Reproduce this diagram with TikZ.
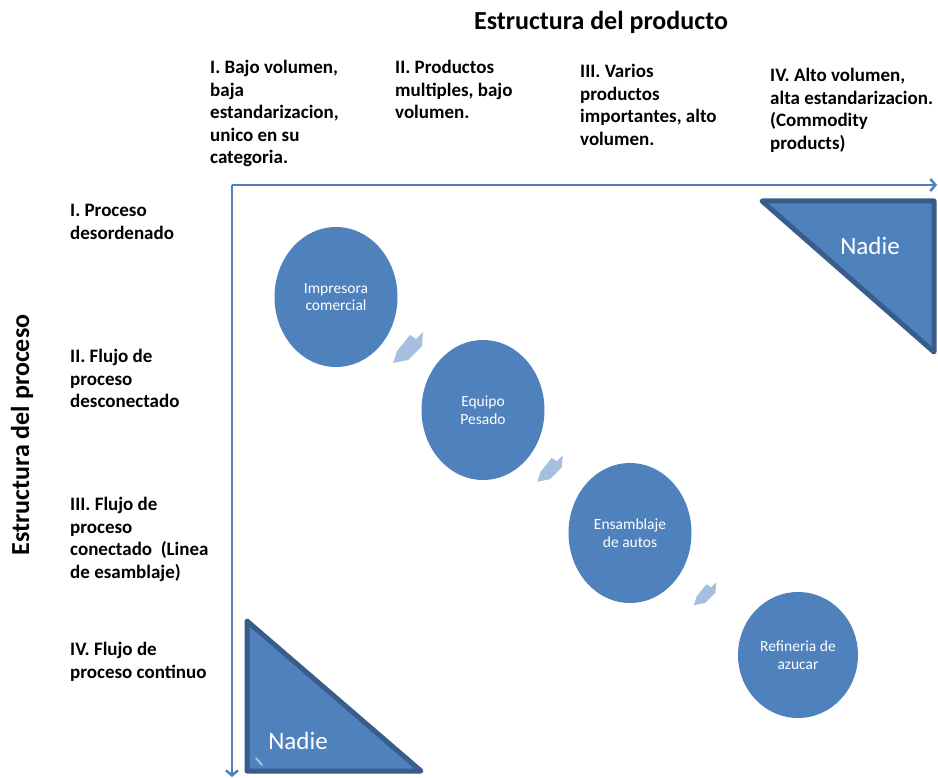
\documentclass[tikz,border=0pt]{standalone}
\usepackage{fontspec}
\setmainfont{Carlito}
\usetikzlibrary{shapes.geometric, arrows.meta, calc}
\definecolor{ejeazul}{HTML}{4F81BD}
\definecolor{bordeazul}{HTML}{385D8A}
\definecolor{flechaclara}{HTML}{A7BFDE}

\begin{document}
\begin{tikzpicture}[
    x=1pt, y=-1pt,
    encabezado/.style={anchor=north west, align=left, inner sep=0pt, font=\fontsize{19}{22.5}\selectfont\bfseries},
    titulo/.style={inner sep=0pt, font=\fontsize{26}{30}\selectfont\bfseries},
    oval/.style={ellipse, fill=ejeazul, text=white, minimum width=123pt, minimum height=140pt, inner sep=0pt, align=center, font=\fontsize{15.5}{17.5}\selectfont},
    eje/.style={draw=ejeazul, line width=2.5pt, -{Straight Barb[length=5pt,width=12pt]}},
    tri/.style={fill=ejeazul, draw=bordeazul, line width=5pt, line join=round},
    nadie/.style={text=white, inner sep=0pt, font=\fontsize{25}{30}\selectfont},
    chev/.style={fill=flechaclara}
]
\useasboundingbox (0,0) rectangle (938,778);

% titulos
\node[titulo] (prod) at (601,22) {Estructura del producto};
\node[titulo, rotate=90] (proc) at (22,435) {Estructura del proceso};

% columnas
\node[encabezado] (col1) at (210,60) {I. Bajo volumen,\\baja\\estandarizacion,\\unico en su\\categoria.};
\node[encabezado] (col2) at (395,60) {II. Productos\\multiples, bajo\\volumen.};
\node[encabezado] (col3) at (580,64) {III. Varios\\productos\\importantes, alto\\volumen.};
\node[encabezado] (col4) at (770,68) {IV. Alto volumen,\\alta estandarizacion.\\(Commodity\\products)};

% filas
\node[encabezado] (fila1) at (70,204) {I. Proceso\\desordenado};
\node[encabezado] (fila2) at (70,349) {II. Flujo de\\proceso\\desconectado};
\node[encabezado] (fila3) at (70,497) {III. Flujo de\\proceso\\conectado~ (Linea\\de esamblaje)};
\node[encabezado] (fila4) at (70,642) {IV. Flujo de\\proceso continuo};

% ejes
\coordinate (origen) at (232,185);
\coordinate (finx) at (937,185);
\coordinate (finy) at (232,777);
\draw[eje] (origen) -- (finx);
\draw[eje] (origen) -- (finy);

% triangulos
\draw[tri] (762,201) -- (934,201) -- (934,352) -- cycle;
\node[nadie] (nadie1) at (870,246) {Nadie};
\draw[tri] (247,621) -- (247,771) -- (421,771) -- cycle;
\draw[flechaclara, line width=2pt, line cap=round] (256,758) -- (262,765);
\node[nadie] (nadie2) at (298,741) {Nadie};

% ovalos
\node[oval] (imp) at (336,297) {Impresora\\comercial};
\node[oval] (equ) at (483,410) {Equipo\\Pesado};
\node[oval] (ens) at (630,533) {Ensamblaje\\de autos};
\node[oval, minimum width=120pt, minimum height=126pt] (ref) at (798,655) {Refineria de\\azucar};

% flechas
\foreach \a/\b/\dx/\dy/\s in {imp/equ/-1.5/-5.5/1, equ/ens/-6.5/-2.5/0.85, ens/ref/-9/0/0.75}
  \fill[chev, shift={($(\a)!0.5!(\b)+(\dx,\dy)$)}, scale=\s] (-15,15) -- (-11,3) -- (2,-13) -- (8,-9) -- (15,-16) -- (14,-2) -- (0,12) -- cycle;

\end{tikzpicture}
\end{document}
